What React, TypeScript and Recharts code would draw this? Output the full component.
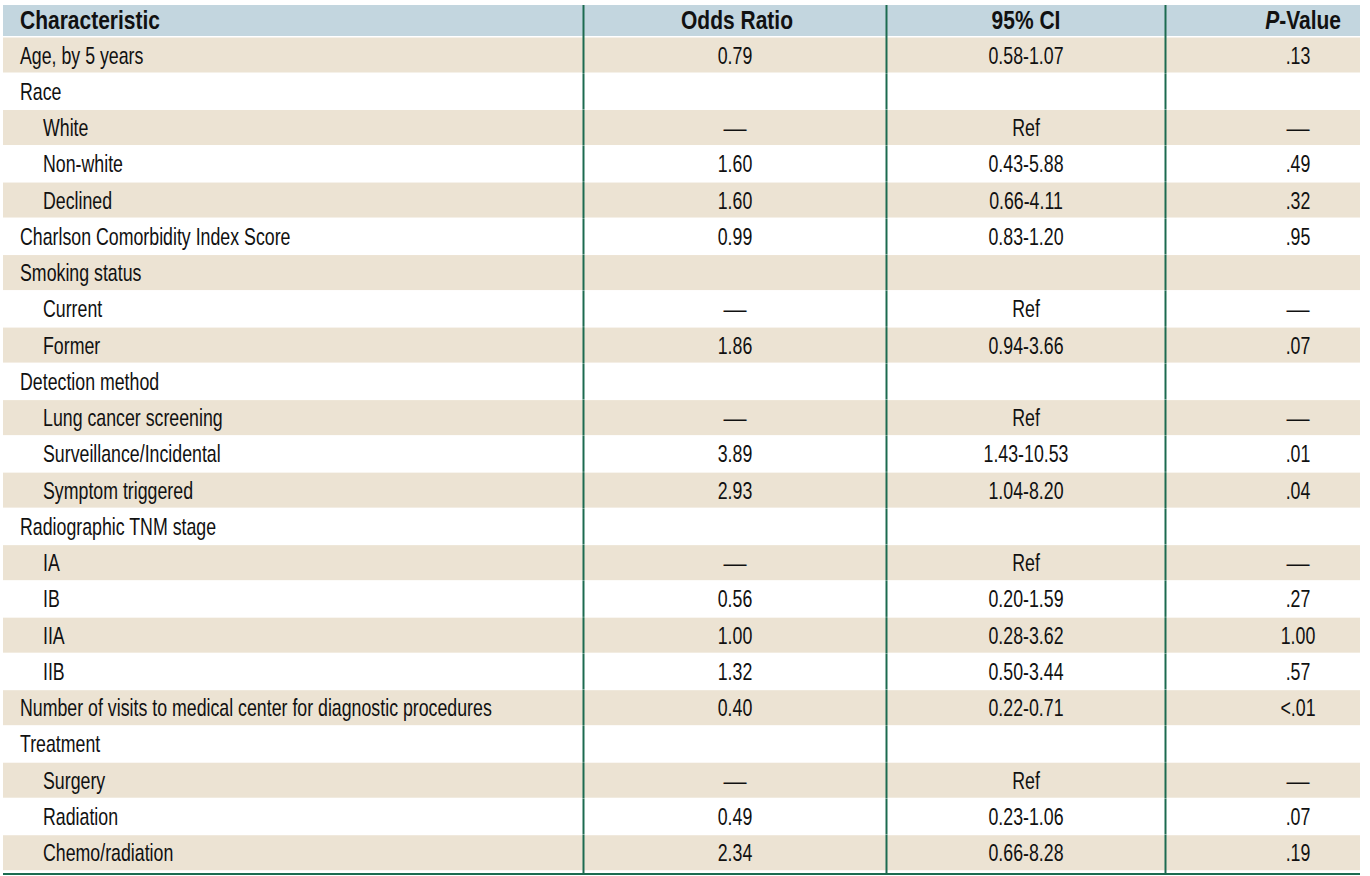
import React from 'react';
import { BarChart, Bar, XAxis, YAxis, Customized } from 'recharts';

const characteristics = [
  'Age, by 5 years',
  'Race',
  'White',
  'Non-white',
  'Declined',
  'Charlson Comorbidity Index Score',
  'Smoking status',
  'Current',
  'Former',
  'Detection method',
  'Lung cancer screening',
  'Surveillance/Incidental',
  'Symptom triggered',
  'Radiographic TNM stage',
  'IA',
  'IB',
  'IIA',
  'IIB',
  'Number of visits to medical center for diagnostic procedures',
  'Treatment',
  'Surgery',
  'Radiation',
  'Chemo/radiation',
];

const indented = [
  false, false, true, true, true, false, false, true, true, false, true, true,
  true, false, true, true, true, true, false, false, true, true, true,
];

const oddsRatios = [
  '0.79', '', '—', '1.60', '1.60', '0.99', '', '—', '1.86', '', '—', '3.89',
  '2.93', '', '—', '0.56', '1.00', '1.32', '0.40', '', '—', '0.49', '2.34',
];

const confIntervals = [
  '0.58-1.07', '', 'Ref', '0.43-5.88', '0.66-4.11', '0.83-1.20', '', 'Ref',
  '0.94-3.66', '', 'Ref', '1.43-10.53', '1.04-8.20', '', 'Ref', '0.20-1.59',
  '0.28-3.62', '0.50-3.44', '0.22-0.71', '', 'Ref', '0.23-1.06', '0.66-8.28',
];

const pValues = [
  '.13', '', '—', '.49', '.32', '.95', '', '—', '.07', '', '—', '.01',
  '.04', '', '—', '.27', '1.00', '.57', '<.01', '', '—', '.07', '.19',
];

const headers = ['Characteristic', 'Odds Ratio', '95% CI', 'Value'];

const data = characteristics.map((label, i) => ({
  label,
  indent: indented[i],
  or: oddsRatios[i],
  ci: confIntervals[i],
  p: pValues[i],
  band: 1,
}));

const FONT = '"Liberation Sans", Arial, sans-serif';
const BEIGE = '#ece3d3';
const HEADER_BG = '#c3d6df';
const GREEN = '#1c6b50';
const DIVIDERS = [583.5, 886.5, 1165.5];
const COL_OR = 735;
const COL_CI = 1026;
const COL_P = 1298;

// condensed look: squeeze the regular face horizontally
const Txt = ({ x, y, anchor = 'start', bold = false, sx = 0.74, size = 24, children }: any) => (
  <g transform={`translate(${x},${y}) scale(${children === '—' ? 0.96 : sx},1)`}>
    <text
      x={0}
      y={0}
      textAnchor={anchor}
      fontFamily={FONT}
      fontSize={size}
      fontWeight={bold ? 'bold' : 'normal'}
      fill="#111"
    >
      {children}
    </text>
  </g>
);

const RowShape = (props: any) => {
  const { x, y, width, height, index, payload } = props;
  const base = y + height / 2 + 8.5;
  const last = index === characteristics.length - 1;
  return (
    <g>
      {index % 2 === 0 && (
        <rect x={x} y={y + 0.5} width={width} height={height - 1} fill={BEIGE} />
      )}
      <Txt x={payload.indent ? 43 : 20} y={base}>{payload.label}</Txt>
      <Txt x={COL_OR} y={base} anchor="middle">{payload.or}</Txt>
      <Txt x={COL_CI} y={base} anchor="middle">{payload.ci}</Txt>
      <Txt x={COL_P} y={base} anchor="middle">{payload.p}</Txt>
      {DIVIDERS.map((dx) => (
        <line key={dx} x1={dx} x2={dx} y1={y} y2={last ? 875 : y + height} stroke={GREEN} strokeWidth={2} />
      ))}
    </g>
  );
};

const Header = () => (
  <g>
    <rect x={3} y={5} width={1357} height={31} fill={HEADER_BG} />
    <Txt x={20} y={29} bold sx={0.84} size={25}>{headers[0]}</Txt>
    <Txt x={737} y={29} anchor="middle" bold sx={0.84} size={25}>{headers[1]}</Txt>
    <Txt x={1026} y={29} anchor="middle" bold sx={0.84} size={25}>{headers[2]}</Txt>
    <Txt x={1341} y={29} anchor="end" bold sx={0.84} size={25}>
      <tspan fontStyle="italic">P</tspan>-{headers[3]}
    </Txt>
    {DIVIDERS.map((dx) => (
      <line key={dx} x1={dx} x2={dx} y1={5} y2={37} stroke={GREEN} strokeWidth={2} />
    ))}
    <line x1={3} x2={1360} y1={874} y2={874} stroke={GREEN} strokeWidth={2} />
  </g>
);

export default function App() {
  return (
    <div style={{ position: 'absolute', left: 0, top: 0, background: '#fff' }}>
      <BarChart
        width={1370}
        height={876}
        data={data}
        layout="vertical"
        margin={{ top: 37, right: 10, bottom: 5, left: 3 }}
        barCategoryGap={0}
        barGap={0}
      >
        <XAxis type="number" domain={[0, 1]} hide />
        <YAxis type="category" dataKey="label" hide width={0} />
        <Bar dataKey="band" shape={RowShape} isAnimationActive={false} />
        <Customized component={Header} />
      </BarChart>
    </div>
  );
}
